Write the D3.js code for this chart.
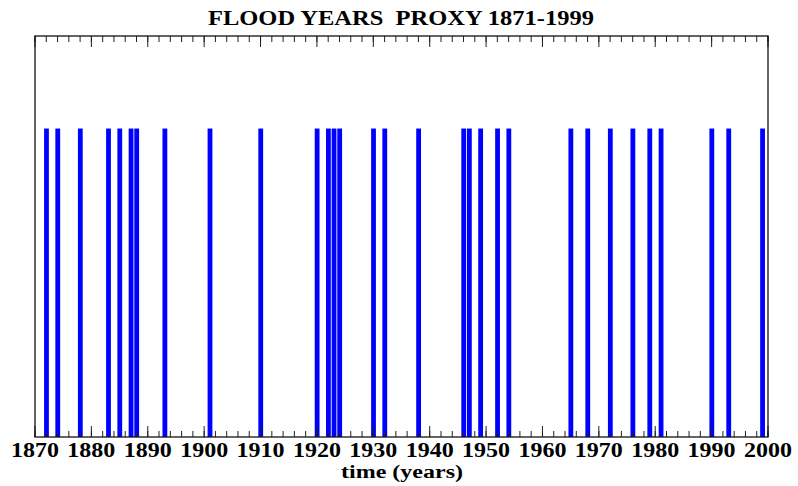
<!DOCTYPE html>
<html>
<head>
<meta charset="utf-8">
<script src="https://cdn.jsdelivr.net/npm/d3@7"></script>
<style>
  body { margin: 0; background: #fff; }
  text { font-family: "Liberation Serif", "Times New Roman", serif; font-weight: bold; fill: #000; }
</style>
</head>
<body>
<svg id="chart"></svg>
<script>
// flood years (each bar = one year)
const floodYears = [1872, 1874, 1878, 1883, 1885, 1887, 1888, 1893, 1901, 1910,
    1920, 1922, 1923, 1924, 1930, 1932, 1938, 1946, 1947, 1949, 1952, 1954,
    1965, 1968, 1972, 1976, 1979, 1981, 1990, 1993, 1999];
const floodValue = 1;
const majorTicks = [1870, 1880, 1890, 1900, 1910, 1920, 1930, 1940, 1950, 1960, 1970, 1980, 1990, 2000];
const minorTicks = d3.range(1870, 2001, 2);

const margin = { top: 36, right: 30, bottom: 49, left: 35 };
const width = 798 - margin.left - margin.right;
const height = 486 - margin.top - margin.bottom;

const svg = d3.select("#chart")
    .attr("width", 798)
    .attr("height", 486);

const g = svg.append("g")
    .attr("transform", `translate(${margin.left}, ${margin.top})`);

const x = d3.scaleLinear().domain([1870, 2000]).range([0, width]);
const y = d3.scaleLinear().domain([0, 1.3]).range([height, 0]);

// bars
g.selectAll("rect.bar")
    .data(floodYears)
    .enter()
    .append("rect")
    .attr("class", "bar")
    .attr("x", d => x(d) - 2.2)
    .attr("width", 4.8)
    .attr("y", y(floodValue))
    .attr("height", y(0) - y(floodValue))
    .attr("fill", "#0000ff");

// ticks, bottom and top, pointing inward
const tickColor = "#222";
function drawTicks(yPos, dir) {
    g.selectAll(null).data(minorTicks).enter().append("line")
        .attr("x1", d => x(d)).attr("x2", d => x(d))
        .attr("y1", yPos).attr("y2", yPos + dir * 6)
        .attr("stroke", tickColor).attr("stroke-width", 1);
    g.selectAll(null).data(majorTicks).enter().append("line")
        .attr("x1", d => x(d)).attr("x2", d => x(d))
        .attr("y1", yPos).attr("y2", yPos + dir * 11)
        .attr("stroke", tickColor).attr("stroke-width", 1);
}
drawTicks(height, -1);
drawTicks(0, 1);

// frame
g.append("rect")
    .attr("x", 0).attr("y", 0)
    .attr("width", width).attr("height", height)
    .attr("fill", "none")
    .attr("stroke", "#111")
    .attr("stroke-width", 1.3);

// tick labels
g.selectAll("text.tick")
    .data(majorTicks)
    .enter()
    .append("text")
    .attr("class", "tick")
    .attr("x", d => x(d))
    .attr("y", height + 20)
    .attr("text-anchor", "middle")
    .attr("font-size", 20)
    .attr("textLength", 48)
    .attr("lengthAdjust", "spacingAndGlyphs")
    .text(d => d);

// axis title
svg.append("text")
    .attr("x", 402)
    .attr("y", 478)
    .attr("text-anchor", "middle")
    .attr("font-size", 18)
    .attr("textLength", 122)
    .attr("lengthAdjust", "spacingAndGlyphs")
    .text("time (years)");

// chart title
svg.append("text")
    .attr("x", 401)
    .attr("y", 25)
    .attr("text-anchor", "middle")
    .attr("font-size", 20)
    .attr("textLength", 386)
    .attr("lengthAdjust", "spacingAndGlyphs")
    .attr("xml:space", "preserve")
    .style("white-space", "pre")
    .text("FLOOD YEARS  PROXY 1871-1999");
</script>
</body>
</html>
